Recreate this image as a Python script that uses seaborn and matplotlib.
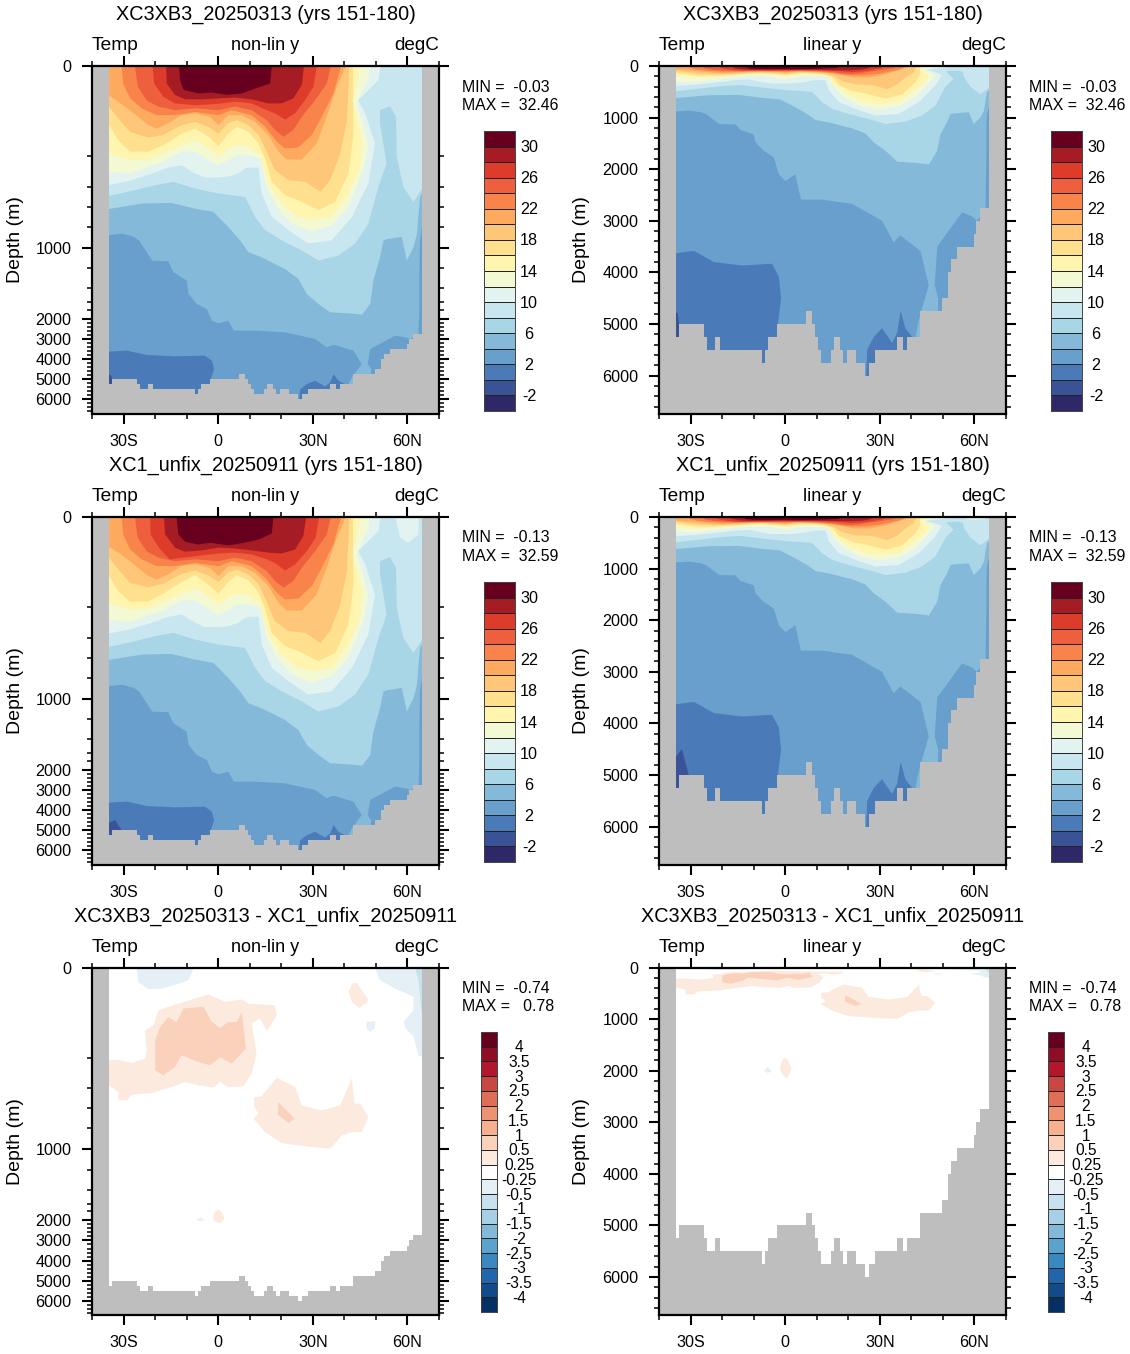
import numpy as np
import matplotlib
matplotlib.use("Agg")
import matplotlib.pyplot as plt
from matplotlib.colors import ListedColormap
from matplotlib.ticker import FixedLocator, NullFormatter
import seaborn as sns

# Zonal-mean ocean temperature sections: two runs and their difference.
W, H = 1130, 1354
OCEAN_WEST, OCEAN_EAST = -34.7, 64.6
DEPTH_BOTTOM = 6735
STRETCH_BOTTOM = 6700
LAND = "#bebebe"

# Band colours, warmest first: >30, 28-30, ... , -2-0, <-2
temp_colors = ["#67001f", "#a61c24", "#dd3c2b", "#ee5f3e", "#f8834b", "#fdaa5f",
               "#fec678", "#ffe08f", "#fff5ae", "#f3f9d2", "#e3f3f0", "#c8e6f0",
               "#a8d6e6", "#85b9d9", "#689fcd", "#4a7ab8", "#3a5396", "#2e2768"]
temp_labels = ["30", "26", "22", "18", "14", "10", "6", "2", "-2"]

# Difference bands, warmest first
diff_colors = ["#67001f", "#8f0d25", "#b2182b", "#c94741", "#de6f56", "#ee9372",
               "#f5b08f", "#fad2bb", "#fdeadf", "#ffffff", "#e4f0f6", "#c8e1ee",
               "#a7d0e4", "#82b9d8", "#5ba3cf", "#3a88c0", "#2166ac", "#134b8a", "#053061"]
diff_labels = ["4", "3.5", "3", "2.5", "2", "1.5", "1", "0.5", "0.25", "-0.25",
               "-0.5", "-1", "-1.5", "-2", "-2.5", "-3", "-3.5", "-4"]

# Sea floor: latitude edges and depth of each step
floor_edges = [-34.7, -33.6, -25.6, -24.7, -22.4, -20.6, -7.5, -6.4, -5.4, -2.6, 6.6, 8.4,
               9.4, 10.5, 11.4, 14.6, 15.6, 17.4, 18.4, 19.6, 22.6, 25.4, 26.6, 28.5, 35.6,
               37.4, 38.5, 42.6, 49.6, 51.7, 52.6, 54.6, 59.7, 60.6, 61.7, 64.6]
floor_depth = [5250, 5000, 5250, 5500, 5250, 5500, 5750, 5500, 5250, 5000, 4750, 5000,
               5250, 5500, 5750, 5500, 5250, 5500, 5750, 5500, 5750, 6000, 5750, 5500,
               5250, 5500, 5250, 4750, 4500, 4000, 3750, 3500, 3250, 3000, 2750]

# Isotherm traces (latitude, depth in m) for the first run
iso_30_lat = [-12.4, -12.1, -11, -6.2, -2, 2.7, 7.5, 11.7, 16.5, 17]
iso_30_dep = [0, 31, 53, 61, 59, 64, 61, 50, 39, 0]
iso_28_lat = [-16.5, -16.3, -13.7, -10.5, -5.2, 0.1, 5.3, 10.6, 15.9, 20.1, 23.8, 26.5, 27.2]
iso_28_dep = [0, 39, 64, 74, 74, 72, 70, 74, 83, 83, 72, 42, 0]
iso_26_lat = [-20.8, -20.3, -17.4, -13.7, -7.3, 0.1, 5.3, 10.6, 15.4, 18, 21.2, 24.4, 27.5, 30.2, 31.3]
iso_26_dep = [0, 39, 68, 83, 87, 84, 79, 83, 98, 105, 119, 105, 76, 46, 0]
iso_24_lat = [-26.4, -25.5, -22.7, -19, -13.7, -7.3, 0.1, 5.3, 10.6, 15.4, 18, 20.7, 23.8, 26.5, 30.7, 34.4, 35.7]
iso_24_dep = [0, 46, 76, 90, 98, 94, 98, 90, 98, 120, 142, 157, 142, 113, 76, 39, 0]
iso_22_lat = [-30.6, -30.1, -27.9, -24.2, -19.5, -13.7, -7.3, 0.1, 4.3, 10.6, 14.9, 18.6, 21.2, 25.4, 29.7, 32.8, 36.5, 39]
iso_22_dep = [0, 39, 72, 94, 109, 109, 102, 109, 98, 109, 135, 168, 183, 181, 153, 113, 61, 0]
iso_20_lat = [-35, -31.7, -28, -22.1, -19.5, -15.8, -11.6, -7.3, -2.6, 0.1, 3.2, 7.5, 11.7, 15.9, 19.1, 21.7, 26.5, 31.2, 34.4, 37.6, 40.5]
iso_20_dep = [64, 79, 98, 131, 139, 127, 109, 105, 113, 131, 109, 109, 124, 153, 190, 222, 222, 172, 113, 46, 0]
iso_18_lat = [-35, -31.7, -28, -22.1, -17.4, -11.6, -7.3, -3.1, 0.1, 3.2, 5.9, 9.6, 12.8, 15.4, 18, 22.3, 27.6, 32.4, 35.5, 38.7, 40.8, 41.6]
iso_18_dep = [87, 116, 146, 159, 153, 131, 124, 135, 150, 127, 120, 131, 153, 190, 291, 356, 367, 450, 356, 194, 120, 0]
iso_16_lat = [-35, -31.7, -28, -22.1, -17.4, -11.6, -7.3, -3.1, 0.1, 3.2, 5.9, 9.6, 12.8, 14.9, 17, 21.2, 25.4, 31.8, 37.1, 41.3, 42.9, 42.7]
iso_16_dep = [127, 164, 190, 190, 176, 150, 139, 157, 178, 150, 135, 146, 172, 215, 367, 483, 533, 633, 550, 313, 150, 0]
iso_14_lat = [-35, -28, -22.1, -17.4, -11.6, -7.3, -3.1, 0.1, 3.2, 5.9, 9.6, 13.3, 15.9, 20.1, 25.4, 29.7, 36, 41.3, 45, 45.5, 43.9, 42.3, 43.9, 45.2]
iso_14_dep = [193, 222, 222, 194, 176, 164, 183, 200, 183, 176, 179, 198, 378, 566, 700, 733, 700, 467, 269, 164, 113, 76, 46, 0]
iso_12_lat = [-35, -28, -22.1, -17.4, -11.6, -7.3, -3.1, 0.1, 3.2, 5.9, 9.6, 13.3, 15.4, 18.6, 23.4, 29.7, 36, 41.3, 46, 47.6, 46, 43.9, 47.7, 47.9]
iso_12_dep = [302, 313, 269, 237, 190, 190, 226, 259, 226, 198, 198, 215, 400, 600, 767, 848, 783, 600, 291, 179, 127, 83, 24, 0]
iso_10_lat = [-35, -28, -21.1, -15.8, -11.6, -7.3, -4.2, 0.1, 3.2, 6.4, 8.5, 10.1, 12.8, 13.8, 17, 22.3, 28.6, 36, 42.4, 47.6, 49.7, 46.6, 44.4, 50.8, 51.5]
iso_10_dep = [389, 360, 313, 274, 259, 313, 339, 339, 333, 313, 280, 274, 274, 467, 700, 832, 961, 929, 700, 378, 172, 105, 76, 31, 0]
iso_8_lat = [-35, -26.4, -20, -14.2, -7.3, 0.1, 8.5, 9.6, 11.7, 14.9, 20.1, 26.5, 31.8, 38.1, 43.4, 47.6, 50.8, 53.4, 51.3, 51.3, 54.5, 56.4, 56.6, 58.7, 61.9, 64, 65]
iso_8_dep = [493, 433, 389, 367, 417, 467, 500, 567, 700, 832, 929, 1028, 1126, 1077, 961, 767, 400, 248, 127, 98, 89, 113, 204, 400, 550, 450, 400]
iso_6_lat = [-35, -24.3, -14.8, -7.3, -1.5, 3.2, 6.9, 9.6, 13.8, 21.2, 25.4, 28.1, 31.8, 35.5, 41.3, 45.6, 48.2, 49.2, 51.3, 52.4, 53.4, 58.2, 59.8, 61.9, 63, 63.5, 64, 65]
iso_6_dep = [623, 567, 560, 617, 650, 800, 929, 1045, 1094, 1207, 1306, 1481, 1643, 1854, 1877, 1908, 1643, 1323, 1094, 932, 919, 897, 1126, 997, 868, 670, 503, 437]
iso_4_lat = [-35, -30.4, -26.7, -25.1, -23, -20.9, -15.8, -14.2, -10, -9.4, -6.8, -3.6, -2, 0.1, 3.2, 5, 11.7, 21.2, 30.7, 34.4, 36.5, 42.9, 45.5, 42.4, 40.8, 42.4, 47.6, 48.5, 47.4, 48.2, 56.1, 59.3, 60.8, 61.9, 63.5, 63.8, 63.8, 64, 65]
iso_4_dep = [881, 865, 897, 932, 1029, 1126, 1132, 1240, 1323, 1481, 1643, 1774, 2098, 2230, 2098, 2590, 2590, 2672, 3000, 3417, 3283, 3583, 4250, 4917, 5417, 6400, 6400, 4500, 4250, 3500, 2836, 2918, 3000, 2918, 2754, 1730, 1257, 932, 703]
iso_2_lat = [-35, -28.9, -22.6, -13.7, -4.2, -2, -1.3, -2.3, -2.3, 25.4, 26, 28.1, 30.7, 33.9, 35.5, 36.6, 38.1, 40.2, 40.2, 65]
iso_2_dep = [3633, 3583, 3800, 3867, 3833, 4083, 4500, 5000, 6400, 6400, 5500, 5250, 5083, 5367, 5167, 4750, 5083, 5250, 6400, 6400]
iso_0_lat = [-35, -34.1, -33.6, -33.6, 65]
iso_0_dep = [4800, 4780, 5000, 6400, 6400]

# Isotherm traces that differ in the second run
run2_30_lat = [-13.2, -12.6, -10.5, -6.3, -2.6, 3.2, 8.5, 12.8, 17, 17.5]
run2_30_dep = [0, 39, 55, 61, 57, 63, 57, 50, 37, 0]
run2_28_lat = [-17.2, -16.8, -13.7, -10.5, -5.2, 0.1, 5.3, 10.6, 15.9, 20.1, 24.4, 27, 27.9]
run2_28_dep = [0, 39, 68, 77, 74, 68, 70, 74, 79, 81, 72, 42, 0]
run2_26_lat = [-21.6, -21.4, -18.4, -15.3, -7.3, 0.1, 5.3, 10.6, 15.4, 18, 21.2, 24.4, 28.1, 30.9, 32]
run2_26_dep = [0, 39, 72, 94, 87, 81, 79, 83, 94, 102, 119, 105, 76, 46, 0]
run2_18_head = [87, 116, 146, 156, 148, 126, 119, 130, 144, 123, 117, 128, 148, 188, 291]
run2_16_head = [127, 164, 188, 187, 170, 144, 129, 151, 170, 144, 129, 141, 167, 211, 367]
run2_14_head = [190, 215, 207, 188, 170, 158, 177, 194, 177, 170, 174, 194, 378]
run2_12_head = [281, 298, 253, 222, 185, 185, 211, 252, 215, 194, 194, 204, 400]
run2_10_head = [373, 345, 302, 263, 248, 302, 330, 330, 324, 302, 271, 263, 263, 467]
run2_0_lat = [-35, -32.7, -30.6, -30.6, 65]
run2_0_dep = [4667, 4500, 5000, 6400, 6400]
run2_pocket_lat = [56.1, 57.7, 60.3, 63.5, 63.5]
run2_pocket_dep = [0, 46, 57, 39, 0]

# Difference patches: outlines of the 0.25-0.5 and 0.5-1 warm bands and the cool bands
warm_a_lat = [-35, -31.6, -27.4, -23.2, -22.7, -23.2, -20.5, -19, -12.6, -3.1, 2.2, 7.5, 9.6, 18, 18.6, 15.4, 13.3, 10.6, 12.2, 10.6, 8, 3.2, 0.6, -1.5, -6.3, -10.5, -14.7, -21.1, -27.4, -29, -31.6, -31.6, -35]
warm_a_dep = [217, 213, 235, 207, 184, 140, 128, 95, 80, 60, 76, 71, 80, 84, 106, 142, 113, 124, 191, 304, 387, 392, 358, 395, 380, 358, 391, 447, 463, 520, 520, 437, 374]
core_a_lat = [-20, -18.4, -15.8, -13.2, -11, -4.7, -2, 0.6, 3.2, 5.9, 7.5, 8.8, 4.3, 0.6, -2.6, -6.3, -11.6, -13.7, -17.4, -20]
core_a_dep = [161, 132, 110, 121, 91, 87, 121, 134, 121, 121, 99, 180, 239, 199, 250, 228, 195, 261, 315, 282]
warm_b_lat = [11.4, 13.8, 15.7, 18.6, 24.4, 26.5, 32.8, 38.7, 42.4, 43.2, 45, 47.6, 45.5, 42.4, 39.2, 35.5, 29.7, 20.1, 14.9, 11.2, 12.8, 11.4]
warm_b_dep = [487, 480, 403, 332, 391, 570, 620, 570, 332, 553, 553, 687, 836, 836, 868, 997, 981, 942, 836, 703, 653, 587]
core_b_lat = [19.1, 24.2, 22.3, 18.9]
core_b_dep = [537, 703, 747, 660]
warm_c_lat = [42.4, 43.9, 47.4, 47.4, 44.7, 42.4, 41.3]
warm_c_dep = [36, 34, 69, 76, 90, 76, 54]
warm_d_lat = [-1.7, -1, 0.1, 1.2, 2, 1, 0.3, -1]
warm_d_dep = [1950, 1800, 1750, 1830, 1960, 2120, 2145, 2060]
cool_a_lat = [-25.9, -25.3, -22.1, -17.9, -12.6, -9.4, -7.6]
cool_a_dep = [0, 32, 48, 47, 36, 28, 0]
cool_b_lat = [49.7, 51.3, 56.1, 61.9, 61.9, 58.8, 59.3, 61.9, 63.5, 64.5, 65, 65]
cool_b_dep = [0, 28, 47, 65, 95, 120, 135, 153, 195, 198, 198, 0]
cool_c_lat = [46.9, 49.8, 49.6, 48.2, 47.1]
cool_c_dep = [121, 119, 135, 143, 135]
cool_d_lat = [-6.8, -5.5, -4.3, -5.5]
cool_d_dep = [2000, 1930, 2010, 2045]
cool_e_lat = [62.4, 63.5, 64.5, 65, 65]
cool_e_dep = [0, 28, 102, 102, 0]

# Depth axis of the stretched panels: depth and its share of the axis height
stretch_depth = [0, 200, 400, 600, 800, 1000, 1200, 1400, 1600, 1800, 2000, 3000, 4000, 5000, 6000, STRETCH_BOTTOM]
stretch_pos = [0, 90, 120.7, 140.7, 160.7, 181.3, 202, 222, 236, 243.6, 252.3, 272.6, 292.6, 312.6, 333, 347]

run_a = "XC3XB3_20250313"
run_b = "XC1_unfix_20250911"
row_tops = [66, 517, 967.5]
col_lefts = [92, 659]

sns.set_style("ticks")
plt.rcParams["font.family"] = ["Liberation Sans", "DejaVu Sans"]
fig = plt.figure(figsize=(W / 100, H / 100), dpi=100)


def px_axes(x, y, w, h):
    return fig.add_axes([x / W, 1 - (y + h) / H, w / W, h / H])


def ftext(x, y, s, **kw):
    fig.text(x / W, 1 - y / H, s, va="center", color="black", **kw)


def surface_fill(ax, lat, dep, color):
    """Fill from the surface down to a trace."""
    xs = [lat[0]] + list(lat) + [lat[-1]]
    ys = [0] + list(dep) + [0]
    ax.fill(xs, ys, color=color, lw=0)


def with_head(head, tail):
    return list(head) + list(tail[len(head):])


def base_traces():
    return {30: (iso_30_lat, iso_30_dep), 28: (iso_28_lat, iso_28_dep), 26: (iso_26_lat, iso_26_dep),
            24: (iso_24_lat, iso_24_dep), 22: (iso_22_lat, iso_22_dep), 20: (iso_20_lat, iso_20_dep),
            18: (iso_18_lat, iso_18_dep), 16: (iso_16_lat, iso_16_dep), 14: (iso_14_lat, iso_14_dep),
            12: (iso_12_lat, iso_12_dep), 10: (iso_10_lat, iso_10_dep), 8: (iso_8_lat, iso_8_dep),
            6: (iso_6_lat, iso_6_dep), 4: (iso_4_lat, iso_4_dep), 2: (iso_2_lat, iso_2_dep),
            0: (iso_0_lat, iso_0_dep)}


def second_traces():
    t = base_traces()
    t[30] = (run2_30_lat, run2_30_dep)
    t[28] = (run2_28_lat, run2_28_dep)
    t[26] = (run2_26_lat, run2_26_dep)
    t[18] = (iso_18_lat, with_head(run2_18_head, iso_18_dep))
    t[16] = (iso_16_lat, with_head(run2_16_head, iso_16_dep))
    t[14] = (iso_14_lat, with_head(run2_14_head, iso_14_dep))
    t[12] = (iso_12_lat, with_head(run2_12_head, iso_12_dep))
    t[10] = (iso_10_lat, with_head(run2_10_head, iso_10_dep))
    t[0] = (run2_0_lat, run2_0_dep)
    return t


def draw_temperature(ax, traces, pocket=False):
    ax.fill([-40, 70, 70, -40], [0, 0, DEPTH_BOTTOM, DEPTH_BOTTOM], color=temp_colors[16], lw=0)
    for level in sorted(traces):
        lat, dep = traces[level]
        surface_fill(ax, lat, dep, temp_colors[(30 - level) // 2])
        if pocket and level == 10:
            ax.fill(run2_pocket_lat, run2_pocket_dep, color=temp_colors[10], lw=0)


def draw_difference(ax):
    ax.fill([-40, 70, 70, -40], [0, 0, DEPTH_BOTTOM, DEPTH_BOTTOM], color="white", lw=0)
    light_warm, mid_warm = diff_colors[8], diff_colors[7]
    light_cool, mid_cool = diff_colors[10], diff_colors[11]
    for lat, dep in [(warm_a_lat, warm_a_dep), (warm_b_lat, warm_b_dep),
                     (warm_c_lat, warm_c_dep), (warm_d_lat, warm_d_dep)]:
        ax.fill(lat, dep, color=light_warm, lw=0)
    for lat, dep in [(core_a_lat, core_a_dep), (core_b_lat, core_b_dep)]:
        ax.fill(lat, dep, color=mid_warm, lw=0)
    for lat, dep in [(cool_a_lat, cool_a_dep), (cool_b_lat, cool_b_dep),
                     (cool_c_lat, cool_c_dep), (cool_d_lat, cool_d_dep)]:
        ax.fill(lat, dep, color=light_cool, lw=0)
    ax.fill(cool_e_lat, cool_e_dep, color=mid_cool, lw=0)


def finish_axes(ax, stretched):
    ax.axvspan(-40, OCEAN_WEST, color=LAND, lw=0, zorder=3)
    ax.axvspan(OCEAN_EAST, 70, color=LAND, lw=0, zorder=3)
    ax.stairs(floor_depth, floor_edges, baseline=DEPTH_BOTTOM, fill=True, color=LAND, lw=0, zorder=3)
    if stretched:
        ax.set_yscale("function", functions=(lambda d: np.interp(d, stretch_depth, stretch_pos),
                                             lambda p: np.interp(p, stretch_pos, stretch_depth)))
        minor = [200, 400, 600, 800, 1200, 1400, 1600, 1800] + list(range(2200, 6700, 200))
        ax.set_ylim(STRETCH_BOTTOM, 0)
    else:
        minor = list(range(200, 6700, 200))
        ax.set_ylim(DEPTH_BOTTOM, 0)
    ax.set_xlim(-40, 70)
    ax.xaxis.set_major_locator(FixedLocator([-30, 0, 30, 60]))
    ax.xaxis.set_minor_locator(FixedLocator(list(range(-40, 71, 10))))
    ax.set_xticklabels(["30S", "0", "30N", "60N"])
    ax.yaxis.set_major_locator(FixedLocator([0, 1000, 2000, 3000, 4000, 5000, 6000]))
    ax.yaxis.set_minor_locator(FixedLocator(minor))
    ax.yaxis.set_minor_formatter(NullFormatter())
    ax.set_yticklabels(["0", "1000", "2000", "3000", "4000", "5000", "6000"])
    ax.tick_params(which="major", direction="out", length=7.2, width=1.5, labelsize=11.6, pad=7.5,
                   top=True, right=True, bottom=True, left=True, color="black", labelcolor="black")
    ax.tick_params(which="minor", direction="out", length=3.6, width=1.1,
                   top=True, right=True, bottom=True, left=True, color="black")
    for s in ax.spines.values():
        s.set_visible(True)
        s.set_linewidth(1.6)
        s.set_color("black")
        s.set_zorder(6)


def draw_bar(x, y, w, h, colors, labels, label_x, every, size):
    cax = px_axes(x, y, w, h)
    n = len(colors)
    table = np.arange(n).reshape(-1, 1)
    sns.heatmap(table, cmap=ListedColormap(colors), vmin=-0.5, vmax=n - 0.5, cbar=False,
                linewidths=0.6, linecolor="#222222", xticklabels=False, yticklabels=False, ax=cax)
    for s in cax.spines.values():
        s.set_visible(True)
        s.set_linewidth(0.7)
        s.set_color("#444444")
    trans = cax.get_yaxis_transform()
    for i, lab in enumerate(labels):
        cax.text((label_x - x) / w, 1.07 + i * every, lab, transform=trans, ha="center", va="center",
                 fontsize=size, color="black", clip_on=False)


panels = [
    (0, 0, True, "temp1", f"{run_a} (yrs 151-180)", "MIN =  -0.03", "MAX =  32.46"),
    (0, 1, False, "temp1", f"{run_a} (yrs 151-180)", "MIN =  -0.03", "MAX =  32.46"),
    (1, 0, True, "temp2", f"{run_b} (yrs 151-180)", "MIN =  -0.13", "MAX =  32.59"),
    (1, 1, False, "temp2", f"{run_b} (yrs 151-180)", "MIN =  -0.13", "MAX =  32.59"),
    (2, 0, True, "diff", f"{run_a} - {run_b}", "MIN =  -0.74", "MAX =   0.78"),
    (2, 1, False, "diff", f"{run_a} - {run_b}", "MIN =  -0.74", "MAX =   0.78"),
]

for row, col, stretched, field, title, min_txt, max_txt in panels:
    left, top = col_lefts[col], row_tops[row]
    ax = px_axes(left, top, 347, 347.5)
    if field == "temp1":
        draw_temperature(ax, base_traces())
    elif field == "temp2":
        draw_temperature(ax, second_traces(), pocket=True)
    else:
        draw_difference(ax)
    finish_axes(ax, stretched)

    centre = left + 173.5
    ftext(centre, top - 51.5, title, ha="center", fontsize=14.3)
    ftext(left, top - 20.5, "Temp", ha="left", fontsize=13.8)
    ftext(centre, top - 20.5, "non-lin y" if stretched else "linear y", ha="center", fontsize=13)
    ftext(left + 347, top - 20.5, "degC", ha="right", fontsize=13.6)
    ftext(left - 77, top + 174, "Depth (m)", ha="center", rotation=90, fontsize=14)
    ftext(left + 370, top + 21, min_txt, ha="left", fontsize=11.4)
    ftext(left + 370, top + 39, max_txt, ha="left", fontsize=11.4)
    if field == "diff":
        draw_bar(left + 388.5, top + 64.5, 16.5, 280, diff_colors, diff_labels, left + 427, 1, 11.2)
    else:
        draw_bar(left + 391.5, top + 65, 31.5, 280, temp_colors, temp_labels, left + 437, 2, 11.6)

fig.savefig("out.png", dpi=100)
